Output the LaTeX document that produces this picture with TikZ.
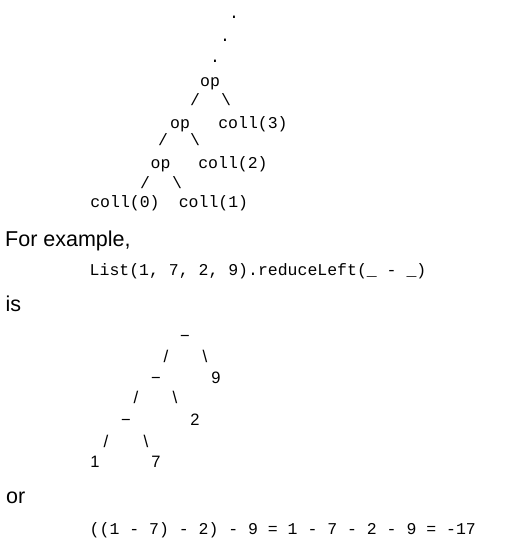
\documentclass[tikz,border=0pt]{standalone}
\usepackage{fontspec}
\setmainfont{Liberation Sans}
\setmonofont{Liberation Mono}
\usetikzlibrary{positioning, calc}

\begin{document}
\begin{tikzpicture}[
  x=1pt, y=-1pt,
  code/.style = {font=\ttfamily\fontsize{16.5}{20}\selectfont, inner sep=0pt, anchor=base},
  code_line/.style = {code, anchor=base west},
  prose/.style = {font=\fontsize{21.5}{25}\selectfont, inner sep=0pt, anchor=base west},
  leaf/.style = {font=\fontsize{16.5}{20}\selectfont, inner sep=0pt, anchor=base},
  slash/.style = {font=\ttfamily\fontsize{16.5}{20}\selectfont, inner sep=0pt, anchor=center},
  slash_sans/.style = {font=\fontsize{17}{20}\selectfont, inner sep=0pt, anchor=center}
]
\useasboundingbox (0,0) rectangle (524,546);

%--------------------------------------------------
% reduceLeft tree (monospace)
%--------------------------------------------------
\node[code] (dot1) at (234,18.5) {.};
\node[code] (dot2) at (225,41.5) {.};
\node[code] (dot3) at (215,62.5) {.};

\node[code] (op1) at (210,86) {op};
\node[slash] (s1l) at (195,100) {/};
\node[slash] (s1r) at (226,100) {\textbackslash};

\node[code] (op2) at (180,128) {op};
\node[code] (coll3) at (253,128) {coll(3)};
\node[slash] (s2l) at (163,140) {/};
\node[slash] (s2r) at (195,140) {\textbackslash};

\node[code] (op3) at (160.5,168) {op};
\node[code] (coll2) at (233,168) {coll(2)};
\node[slash] (s3l) at (145,183) {/};
\node[slash] (s3r) at (177,183) {\textbackslash};

\node[code] (coll0) at (125,207) {coll(0)};
\node[code] (coll1) at (213.5,207) {coll(1)};

%--------------------------------------------------
% Example text
%--------------------------------------------------
\node[prose] (t_for) at (5,246.7) {For example,};
\node[code_line] (t_list) at (89.5,275) {List(1, 7, 2, 9).reduceLeft(\_ - \_)};
\node[prose] (t_is) at (5.3,311.7) {is};

%--------------------------------------------------
% Example tree (sans)
%--------------------------------------------------
\node[leaf] (m1) at (185,341) {−};
\node[slash_sans] (e1l) at (166,356.3) {/};
\node[slash_sans] (e1r) at (205,356.3) {\textbackslash};

\node[leaf] (m2) at (156,383.3) {−};
\node[leaf] (n9) at (216,383.3) {9};
\node[slash_sans] (e2l) at (136,397.8) {/};
\node[slash_sans] (e2r) at (175,397.8) {\textbackslash};

\node[leaf] (m3) at (126,425) {−};
\node[leaf] (n2) at (195,425) {2};
\node[slash_sans] (e3l) at (106,441.3) {/};
\node[slash_sans] (e3r) at (146,441.3) {\textbackslash};

\node[leaf] (n1) at (95,467.7) {1};
\node[leaf] (n7) at (156,467.7) {7};

%--------------------------------------------------
% Result
%--------------------------------------------------
\node[prose] (t_or) at (6,503.3) {or};
\node[code_line] (t_result) at (89.5,534.3) {((1 - 7) - 2) - 9 = 1 - 7 - 2 - 9 = -17};

\end{tikzpicture}
\end{document}
